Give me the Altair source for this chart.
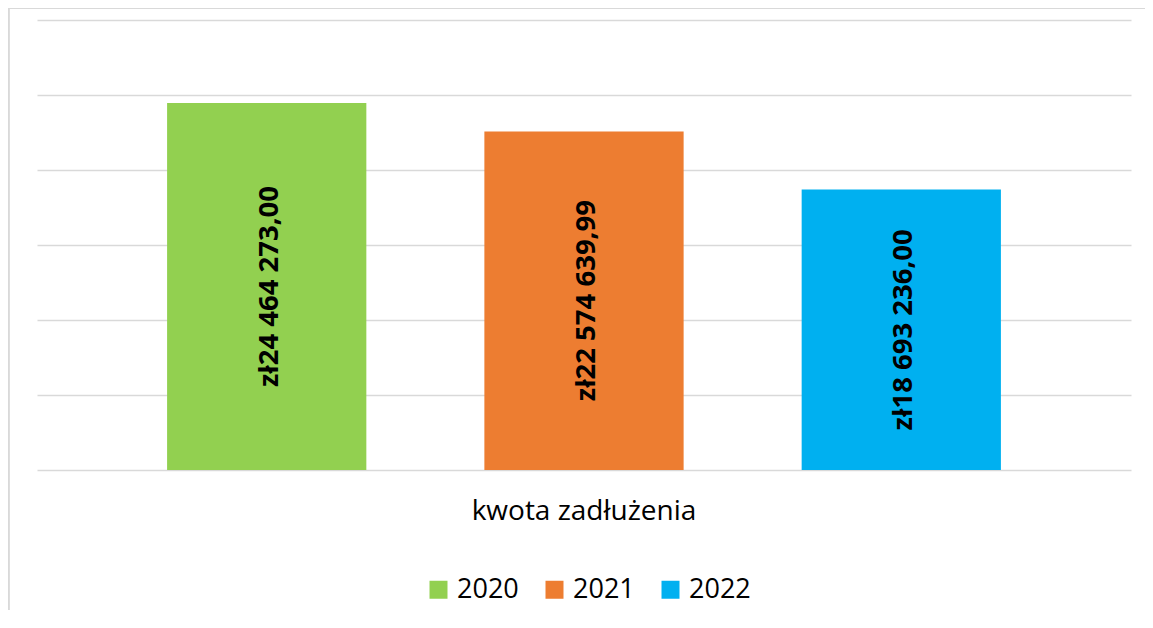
import altair as alt
import pandas as pd

categories = ["kwota zadłużenia"]
years = ["2020", "2021", "2022"]
values = [24464273.00, 22574639.99, 18693236.00]
labels = ["zł24 464 273,00", "zł22 574 639,99", "zł18 693 236,00"]
colors = ["#92d050", "#ed7d31", "#00b0f0"]
y_ticks = [0, 5000000, 10000000, 15000000, 20000000, 25000000, 30000000]

df = pd.DataFrame({
    "kategoria": categories * len(years),
    "rok": years,
    "kwota": values,
    "etykieta": labels,
})
df["srodek"] = df["kwota"] / 2

FONT = "Open Sans"

x_enc = alt.X("kategoria:N", title=None, scale=alt.Scale(paddingInner=0, paddingOuter=0),
              axis=alt.Axis(labelAngle=0, ticks=False, domain=False, labelFont=FONT,
                            labelFontSize=28, labelColor="#000000", labelPadding=27,
                            labelLimit=1000))
xoff_enc = alt.XOffset("rok:N", scale=alt.Scale(paddingInner=0.372, paddingOuter=0.41))

base = alt.Chart(df)

bars = base.mark_bar().encode(
    x=x_enc,
    xOffset=xoff_enc,
    y=alt.Y("kwota:Q", title=None,
            scale=alt.Scale(domain=[0, 30000000], nice=False),
            axis=alt.Axis(values=y_ticks, labels=False, ticks=False, domain=False,
                          grid=True, gridColor="#d9d9d9", gridWidth=1.6)),
    color=alt.Color("rok:N", scale=alt.Scale(domain=years, range=colors),
                    legend=alt.Legend(title=None, orient="none", direction="horizontal",
                                      legendX=388, legendY=556, padding=0,
                                      symbolType="square", symbolSize=324,
                                      symbolStrokeWidth=0, labelFont=FONT,
                                      labelFontSize=27, labelColor="#000000",
                                      labelOffset=5, columnPadding=22)),
)

text = base.mark_text(angle=270, align="center", baseline="middle", font=FONT,
                      fontWeight="bold", fontSize=27.5, color="#000000", dy=3).encode(
    x=x_enc,
    xOffset=xoff_enc,
    y=alt.Y("srodek:Q"),
    text="etykieta:N",
)

frame_left = base.mark_rule(color="#d9d9d9", strokeWidth=2).encode(
    x=alt.value(-28.5), y=alt.value(-12), y2=alt.value(620)
)
frame_top = base.mark_rule(color="#d9d9d9", strokeWidth=2).encode(
    x=alt.value(-29), x2=alt.value(1110), y=alt.value(-12)
)

chart = alt.layer(bars, text, frame_left, frame_top).properties(
    width=1094, height=450,
    autosize=alt.AutoSizeParams(type="none"),
    padding={"left": 29, "top": 12, "right": 14, "bottom": 140},
).configure_view(stroke=None)

chart.save("out.html", embed_options={"renderer": "svg", "actions": False})
